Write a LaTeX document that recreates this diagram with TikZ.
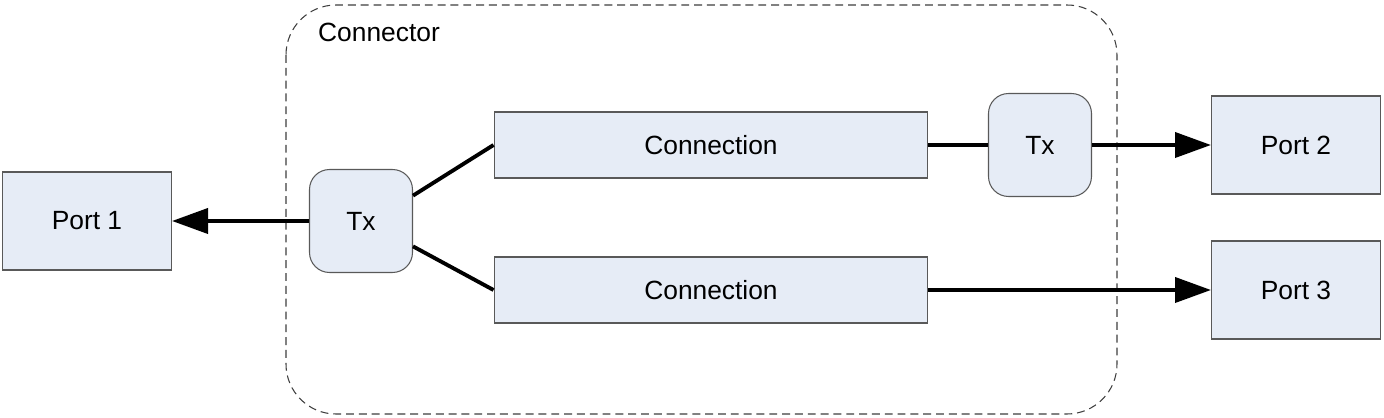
\documentclass[tikz,border=0pt]{standalone}
\usepackage{fontspec}
\setmainfont{Liberation Sans}
\usetikzlibrary{arrows.meta}
\definecolor{boxfill}{HTML}{E6ECF6}
\definecolor{boxline}{HTML}{595959}
\tikzset{
  portbox/.style={draw=boxline, fill=boxfill, line width=0.6pt, minimum width=3.38cm, minimum height=1.96cm, font=\fontsize{15}{18}\selectfont},
  txbox/.style={draw=boxline, fill=boxfill, line width=0.6pt, rounded corners=0.4cm, minimum width=2.06cm, minimum height=2.06cm, font=\fontsize{15}{18}\selectfont},
  connbox/.style={draw=boxline, fill=boxfill, line width=0.6pt, minimum width=8.68cm, minimum height=1.32cm, font=\fontsize{15}{18}\selectfont},
  link/.style={line width=2.2pt},
  flow/.style={link, -{Triangle[length=0.72cm, width=0.5cm]}}
}
\begin{document}
\begin{tikzpicture}[x=0.02cm, y=-0.02cm]
        \useasboundingbox (0,0) rectangle (1384,418);
        % connector frame
        \draw[boxline!70!black, line width=0.6pt, dash pattern=on 4.5pt off 2.8pt, rounded corners=1cm] (286,5) rectangle (1117,414);
        \node[anchor=west, font=\fontsize{15}{18}\selectfont] (lbl) at (312,32) {Connector};

        \node[portbox] (port1) at (87,221) {Port 1};
        \node[portbox] (port2) at (1296,145) {Port 2};
        \node[portbox] (port3) at (1296,290) {Port 3};
        \node[txbox] (txl) at (361,221) {Tx};
        \node[txbox] (txr) at (1040,145) {Tx};
        \node[connbox] (conn1) at (711,145) {Connection};
        \node[connbox] (conn2) at (711,290) {Connection};

        \draw[flow] (txl) -- (port1);
        \draw[link] (txl.26) -- (conn1.west);
        \draw[link] (txl.-26) -- (conn2.west);
        \draw[link] (conn1.east) -- (txr.west);
        \draw[flow] (txr) -- (port2);
        \draw[flow] (conn2) -- (port3);

      \end{tikzpicture}
\end{document}
